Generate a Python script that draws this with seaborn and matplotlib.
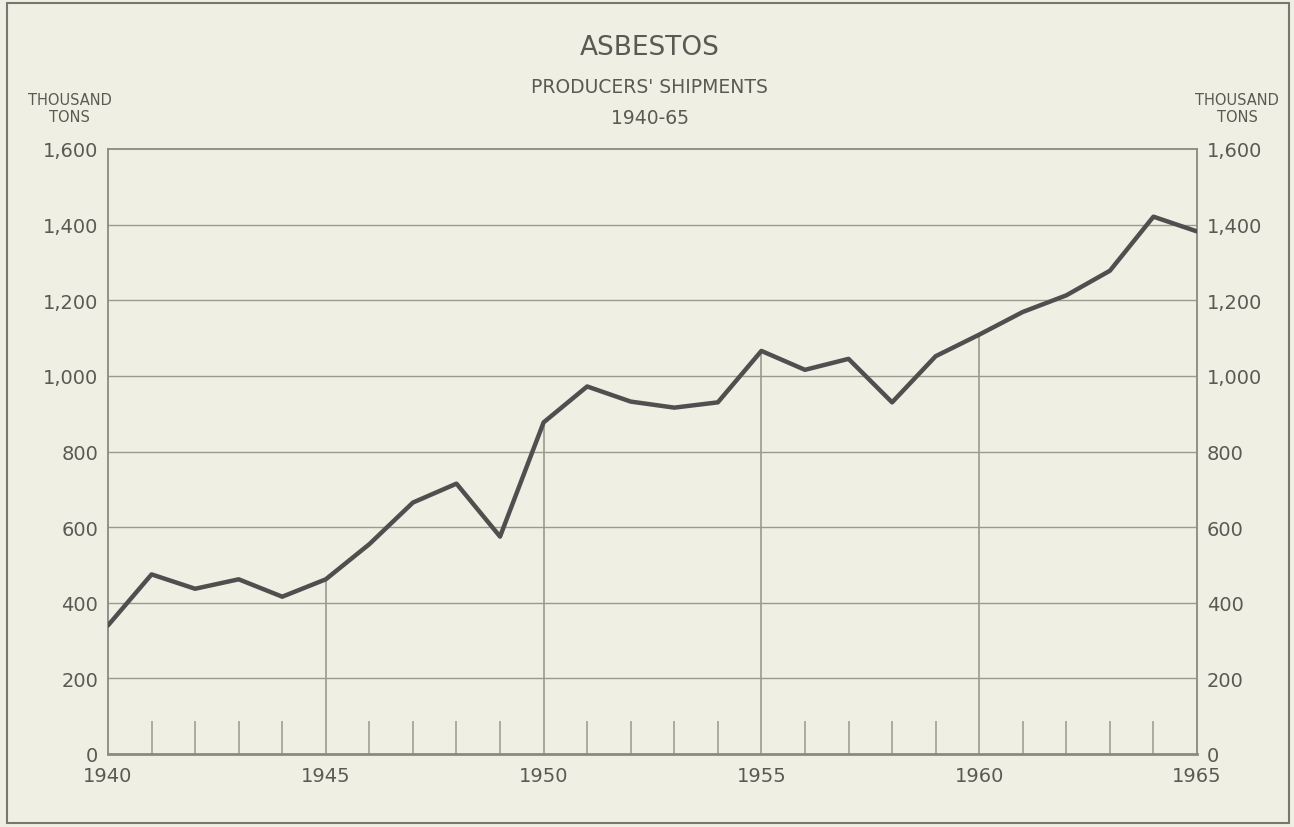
import matplotlib
matplotlib.use("Agg")
import matplotlib.pyplot as plt
from matplotlib.ticker import MultipleLocator, FuncFormatter
from matplotlib.patches import Rectangle
import pandas as pd
import seaborn as sns

# producers' shipments, thousand tons
years = list(range(1940, 1966))
shipments = [340, 475, 437, 462, 416, 462, 555, 665, 715, 575,
             877, 972, 932, 916, 930, 1066, 1016, 1045, 930, 1052,
             1109, 1169, 1213, 1278, 1421, 1382]
y_ticks = [0, 200, 400, 600, 800, 1000, 1200, 1400, 1600]
x_ticks = [1940, 1945, 1950, 1955, 1960, 1965]

df = pd.DataFrame({"year": years, "tons": shipments})

paper = "#efefe3"
ink = "#5a5a55"
grid = "#9a9a90"

sns.set_style("white", {"axes.facecolor": paper, "figure.facecolor": paper,
                        "xtick.bottom": True})
plt.rcParams["font.family"] = ["DejaVu Sans"]

fig = plt.figure(figsize=(12.94, 8.28), dpi=100)
ax = fig.add_axes([108 / 1294, 1 - 755 / 828, (1197 - 108) / 1294, (755 - 150) / 828])

# horizontal grid
for v in y_ticks[1:-1]:
    ax.axhline(v, color=grid, lw=1.0, zorder=1)

# vertical grid lines only run up to the curve
mid = df[df["year"].isin(x_ticks[1:-1])]
ax.vlines(mid["year"], 0, mid["tons"], color=grid, lw=1.2, zorder=1)

sns.lineplot(data=df, x="year", y="tons", ax=ax, color="#4f4f4f", lw=3.2, zorder=3)

ax.set_xlim(1940, 1965)
ax.set_ylim(0, 1600)
ax.set_xlabel("")
ax.set_ylabel("")

ax.set_xticks(x_ticks)
ax.xaxis.set_minor_locator(MultipleLocator(1))
ax.set_yticks(y_ticks)
fmt = FuncFormatter(lambda v, p: f"{int(v):,}")
ax.yaxis.set_major_formatter(fmt)
ax.tick_params(axis="x", which="major", length=0, pad=9, labelsize=14, colors=ink)
ax.tick_params(axis="x", which="minor", bottom=True, direction="in", length=24,
               width=1.1, color=grid)
ax.tick_params(axis="y", which="major", length=0, pad=7, labelsize=14, colors=ink,
               labelleft=True, labelright=True, left=False, right=False)

for s in ax.spines.values():
    s.set_color("#8a8a80")
    s.set_linewidth(1.3)
ax.spines["bottom"].set_linewidth(2)

fig.text(0.502, 0.942, "ASBESTOS", ha="center", va="center", fontsize=19, color=ink)
fig.text(0.502, 0.894, "PRODUCERS' SHIPMENTS", ha="center", va="center", fontsize=13.5, color=ink)
fig.text(0.502, 0.857, "1940-65", ha="center", va="center", fontsize=13.5, color=ink)
fig.text(0.054, 0.868, "THOUSAND\nTONS", ha="center", va="center", fontsize=10.5,
         color=ink, linespacing=1.15)
fig.text(0.956, 0.868, "THOUSAND\nTONS", ha="center", va="center", fontsize=10.5,
         color=ink, linespacing=1.15)

fig.patches.append(Rectangle((7 / 1294, 4 / 828), 1282 / 1294, 820 / 828,
                             transform=fig.transFigure, fill=False,
                             edgecolor="#777770", lw=1.5))

fig.savefig("out.png", dpi=100, facecolor=paper)
